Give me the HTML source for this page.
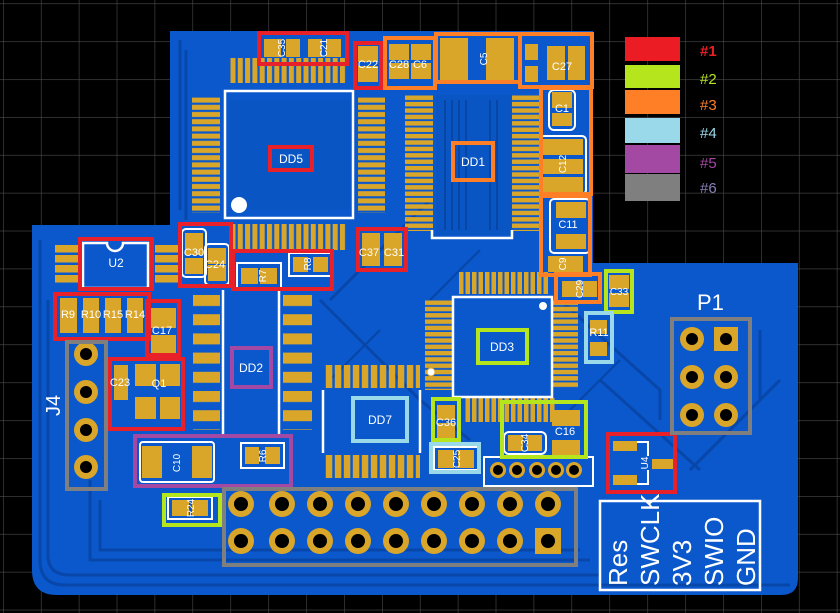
<!DOCTYPE html>
<html><head><meta charset="utf-8"><style>
html,body{margin:0;padding:0;background:#000;}
svg{display:block;}
text{font-family:"Liberation Sans",sans-serif;}
</style></head><body>
<svg width="840" height="613" viewBox="0 0 840 613" xmlns="http://www.w3.org/2000/svg">
<defs>
<pattern id="grid" x="3" y="3.3" width="37.9" height="37.9" patternUnits="userSpaceOnUse"><path d="M0 0H37.9M0 0V37.9" stroke="#4a4a4a" stroke-width="1.2" fill="none"/></pattern>
<pattern id="pv" x="230" y="0" width="7.3" height="613" patternUnits="userSpaceOnUse"><rect x="0.5" y="0" width="5" height="613" rx="2" fill="#d9a62a"/></pattern>
<pattern id="pv2" x="325" y="0" width="9" height="613" patternUnits="userSpaceOnUse"><rect x="0.8" y="0" width="6.5" height="613" rx="1" fill="#d9a62a"/></pattern>
<pattern id="ph" x="0" y="97" width="840" height="7.2" patternUnits="userSpaceOnUse"><rect x="0" y="0.6" width="840" height="5" fill="#d9a62a"/></pattern>
<pattern id="ph2" x="0" y="95" width="840" height="6.4" patternUnits="userSpaceOnUse"><rect x="0" y="0.5" width="840" height="4.5" fill="#d9a62a"/></pattern>
<pattern id="ph3" x="0" y="300" width="840" height="6.3" patternUnits="userSpaceOnUse"><rect x="0" y="0.5" width="840" height="4.5" fill="#d9a62a"/></pattern>
<pattern id="pv3" x="465" y="0" width="6.5" height="613" patternUnits="userSpaceOnUse"><rect x="0.5" y="0" width="4.5" height="613" fill="#d9a62a"/></pattern>
<pattern id="pso" x="0" y="294" width="840" height="19.2" patternUnits="userSpaceOnUse"><rect x="0" y="1" width="840" height="11" fill="#d9a62a"/></pattern>
<pattern id="pu2" x="0" y="244" width="840" height="10" patternUnits="userSpaceOnUse"><rect x="0" y="1" width="840" height="7.5" fill="#d9a62a"/></pattern>
</defs>
<rect width="840" height="613" fill="#000"/>
<rect width="840" height="613" fill="url(#grid)"/>
<!-- board -->
<path d="M170 31 H593 V263 H798 V578 Q798 595 781 595 H57 Q32 595 32 570 V225 H170 Z" fill="#0a58cc"/>
<g stroke="#0846a6" stroke-width="3" fill="none" opacity="0.9">
<path d="M180 40 V210 M186 50 V220 M40 240 V560 Q40 585 65 585 H790 M48 300 V555 Q48 575 70 575 H600"/>
<path d="M560 300 L660 390 V420 M600 380 L700 470 M470 440 L420 400 L320 300 M330 300 L430 200"/>
<path d="M90 480 V560 H590 M100 500 V550 H580"/>
<path d="M720 440 L760 400 V330 M690 470 L780 380"/>
</g>
<rect x="230" y="100" width="120" height="110" fill="#0a55c4"/>
<rect x="436" y="95" width="75" height="140" fill="#0a55c4"/>
<g stroke="#0846a6" stroke-width="2" fill="none">
<path d="M445 100 V230 M452 100 V230 M459 100 V230 M466 100 V230 M490 100 V230 M497 100 V230"/>
<path d="M330 380 L380 330 M560 420 L620 360 M430 300 L480 250"/>
</g>
<!-- DD5 -->
<rect x="230" y="58" width="117" height="25" fill="url(#pv)"/>
<rect x="233" y="224" width="114" height="26" fill="url(#pv)"/>
<rect x="192" y="97" width="28" height="116" fill="url(#ph)"/>
<rect x="358" y="97" width="27" height="116" fill="url(#ph)"/>
<rect x="225" y="91" width="128" height="127" fill="none" stroke="#fff" stroke-width="2.5"/>
<circle cx="239" cy="205" r="8" fill="#fff"/>
<!-- DD1 -->
<rect x="405" y="95" width="28" height="136" fill="url(#ph2)"/>
<rect x="512" y="95" width="28" height="136" fill="url(#ph2)"/>
<rect x="458" y="272" width="90" height="22" fill="url(#pv3)"/>
<path d="M432 230 V238 H512 V230" fill="none" stroke="#fff" stroke-width="2.5"/>
<!-- DD3 -->
<rect x="425" y="300" width="28" height="90" fill="url(#ph3)"/>
<rect x="553" y="300" width="25" height="88" fill="url(#ph3)"/>
<rect x="465" y="398" width="90" height="24" fill="url(#pv3)"/>
<rect x="453" y="297" width="99" height="100" fill="none" stroke="#fff" stroke-width="2.5"/>
<circle cx="543" cy="306" r="4" fill="#fff"/>
<circle cx="431" cy="372" r="4" fill="#fff" stroke="#d9a62a" stroke-width="1"/>
<!-- DD7 -->
<rect x="325" y="365" width="95" height="23" fill="url(#pv2)"/>
<rect x="325" y="455" width="95" height="23" fill="url(#pv2)"/>
<path d="M323 390 V453 M420 390 V453" stroke="#fff" stroke-width="2.5"/>
<!-- DD2 -->
<rect x="193" y="294" width="27" height="136" fill="url(#pso)"/>
<rect x="283" y="294" width="29" height="136" fill="url(#pso)"/>
<path d="M223 290 V435 M279 290 V435" stroke="#fff" stroke-width="2.5"/>
<!-- U2 -->
<rect x="55" y="244" width="24" height="40" fill="url(#pu2)"/>
<rect x="155" y="244" width="24" height="40" fill="url(#pu2)"/>
<path d="M83 243 H107 A8 8 0 0 0 123 243 H148 V288 H83 Z" fill="none" stroke="#fff" stroke-width="2.5"/>
<!-- pads -->
<g fill="#d9a62a">
<rect x="264" y="39" width="17" height="18"/><rect x="286" y="39" width="14" height="18"/>
<rect x="308" y="39" width="14" height="18"/><rect x="326" y="39" width="15" height="18"/>
<rect x="358" y="46" width="20" height="16"/><rect x="358" y="66" width="20" height="16"/>
<rect x="389" y="44" width="20" height="16"/><rect x="389" y="63" width="20" height="16"/>
<rect x="411" y="44" width="20" height="16"/><rect x="411" y="63" width="20" height="16"/>
<rect x="440" y="38" width="28" height="42"/><rect x="486" y="38" width="28" height="42"/>
<rect x="525" y="44" width="13" height="16"/><rect x="525" y="66" width="13" height="16"/>
<rect x="547" y="46" width="18" height="34"/><rect x="568" y="46" width="17" height="34"/>
<rect x="552" y="92" width="20" height="16"/><rect x="552" y="113" width="20" height="13"/>
<rect x="543" y="139" width="40" height="16"/><rect x="543" y="159" width="40" height="15"/><rect x="543" y="177" width="40" height="15"/>
<rect x="556" y="202" width="30" height="16"/><rect x="556" y="234" width="30" height="15"/>
<rect x="548" y="256" width="35" height="16"/>
<rect x="562" y="281" width="20" height="16"/><rect x="583" y="281" width="14" height="16"/>
<rect x="609" y="275" width="20" height="14"/><rect x="609" y="293" width="20" height="14"/>
<rect x="590" y="320" width="17" height="14"/><rect x="590" y="342" width="17" height="14"/>
<rect x="185" y="233" width="18" height="22"/><rect x="185" y="258" width="18" height="16"/>
<rect x="208" y="248" width="18" height="16"/><rect x="208" y="265" width="18" height="16"/>
<rect x="241" y="268" width="17" height="16"/><rect x="260" y="268" width="17" height="16"/>
<rect x="293" y="257" width="15" height="15"/><rect x="313" y="257" width="15" height="15"/>
<rect x="362" y="233" width="18" height="33"/><rect x="384" y="233" width="18" height="33"/>
<rect x="60" y="298" width="17" height="35"/><rect x="83" y="298" width="16" height="35"/><rect x="105" y="298" width="16" height="35"/><rect x="127" y="298" width="16" height="35"/>
<rect x="151" y="308" width="25" height="20"/><rect x="151" y="335" width="25" height="18"/>
<rect x="114" y="365" width="14" height="35"/>
<rect x="135" y="364" width="21" height="22"/><rect x="160" y="364" width="20" height="22"/>
<rect x="135" y="397" width="21" height="22"/><rect x="160" y="397" width="20" height="22"/>
<rect x="142" y="446" width="20" height="32"/><rect x="192" y="446" width="20" height="32"/>
<rect x="245" y="447" width="14" height="17"/><rect x="265" y="447" width="15" height="17"/>
<rect x="172" y="500" width="17" height="16"/><rect x="192" y="500" width="16" height="16"/>
<rect x="437" y="405" width="18" height="15"/><rect x="437" y="423" width="18" height="15"/>
<rect x="438" y="450" width="16" height="18"/><rect x="458" y="450" width="16" height="18"/>
<rect x="508" y="435" width="15" height="16"/><rect x="527" y="435" width="15" height="16"/>
<rect x="552" y="410" width="28" height="16"/><rect x="552" y="440" width="28" height="16"/>
<rect x="613" y="441" width="24" height="10"/><rect x="613" y="475" width="24" height="10"/><rect x="652" y="459" width="23" height="10"/>
</g>
<!-- white silkscreen outlines around small parts -->
<g fill="none" stroke="#fff" stroke-width="2">
<rect x="182" y="229" width="24" height="48" rx="4"/>
<rect x="205" y="244" width="24" height="41" rx="4"/>
<rect x="237" y="263" width="44" height="25"/>
<rect x="289" y="253" width="43" height="23"/>
<rect x="140" y="442" width="74" height="40" rx="3"/>
<rect x="241" y="443" width="43" height="25"/>
<rect x="168" y="497" width="44" height="22"/>
<rect x="549" y="90" width="26" height="40" rx="5"/>
<rect x="540" y="136" width="46" height="58" rx="4"/>
<rect x="550" y="199" width="40" height="54" rx="4"/>
<rect x="434" y="447" width="44" height="23"/>
<rect x="504" y="432" width="42" height="22" rx="5"/>
</g>
<!-- legend -->
<rect x="625" y="37" width="55" height="24" fill="#ec1c24"/>
<rect x="625" y="65" width="55" height="23" fill="#b5e51d"/>
<rect x="625" y="90" width="55" height="24" fill="#ff7f27"/>
<rect x="625" y="118" width="55" height="25" fill="#99d9ea"/>
<rect x="625" y="145" width="55" height="28" fill="#a349a4"/>
<rect x="625" y="174" width="55" height="27" fill="#7f7f7f"/>
<g font-size="15">
<text x="700" y="56" fill="#ec1c24" font-weight="bold">#1</text>
<text x="700" y="84" fill="#b5e51d">#2</text>
<text x="700" y="110" fill="#ff7f27">#3</text>
<text x="700" y="138" fill="#99d9ea">#4</text>
<text x="700" y="168" fill="#a349a4">#5</text>
<text x="700" y="193" fill="#8a7fb8">#6</text>
</g>
<!-- connectors -->
<text x="697" y="310" fill="#fff" font-size="22">P1</text>
<g fill="#d9a62a">
<circle cx="692" cy="339" r="12"/><rect x="714" y="327" width="24" height="24"/>
<circle cx="692" cy="377" r="12"/><circle cx="726" cy="377" r="12"/>
<circle cx="692" cy="415" r="12"/><circle cx="726" cy="415" r="12"/>
<circle cx="86" cy="354" r="12"/><circle cx="86" cy="392" r="12"/><circle cx="86" cy="430" r="12"/><circle cx="86" cy="467" r="12"/>
<circle cx="241" cy="504" r="13"/><circle cx="282" cy="504" r="13"/><circle cx="320" cy="504" r="13"/><circle cx="358" cy="504" r="13"/><circle cx="396" cy="504" r="13"/><circle cx="434" cy="504" r="13"/><circle cx="472" cy="504" r="13"/><circle cx="510" cy="504" r="13"/><circle cx="548" cy="504" r="13"/>
<circle cx="241" cy="541" r="13"/><circle cx="282" cy="541" r="13"/><circle cx="320" cy="541" r="13"/><circle cx="358" cy="541" r="13"/><circle cx="396" cy="541" r="13"/><circle cx="434" cy="541" r="13"/><circle cx="472" cy="541" r="13"/><circle cx="510" cy="541" r="13"/><rect x="535" y="528" width="26" height="26"/>
<circle cx="498" cy="470" r="8"/><circle cx="517" cy="470" r="8"/><circle cx="537" cy="470" r="8"/><circle cx="556" cy="470" r="8"/><circle cx="574" cy="470" r="8"/>
</g>
<g fill="#000">
<circle cx="692" cy="339" r="6"/><circle cx="726" cy="339" r="6"/>
<circle cx="692" cy="377" r="6"/><circle cx="726" cy="377" r="6"/>
<circle cx="692" cy="415" r="6"/><circle cx="726" cy="415" r="6"/>
<circle cx="86" cy="354" r="6"/><circle cx="86" cy="392" r="6"/><circle cx="86" cy="430" r="6"/><circle cx="86" cy="467" r="6"/>
<circle cx="241" cy="504" r="7"/><circle cx="282" cy="504" r="7"/><circle cx="320" cy="504" r="7"/><circle cx="358" cy="504" r="7"/><circle cx="396" cy="504" r="7"/><circle cx="434" cy="504" r="7"/><circle cx="472" cy="504" r="7"/><circle cx="510" cy="504" r="7"/><circle cx="548" cy="504" r="7"/>
<circle cx="241" cy="541" r="7"/><circle cx="282" cy="541" r="7"/><circle cx="320" cy="541" r="7"/><circle cx="358" cy="541" r="7"/><circle cx="396" cy="541" r="7"/><circle cx="434" cy="541" r="7"/><circle cx="472" cy="541" r="7"/><circle cx="510" cy="541" r="7"/><circle cx="548" cy="541" r="7"/>
<circle cx="498" cy="470" r="5"/><circle cx="517" cy="470" r="5"/><circle cx="537" cy="470" r="5"/><circle cx="556" cy="470" r="5"/><circle cx="574" cy="470" r="5"/>
</g>
<text transform="translate(60,416) rotate(-90)" fill="#fff" font-size="20">J4</text>
<rect x="484" y="457" width="109" height="29" fill="none" stroke="#fff" stroke-width="2"/>
<rect x="600" y="501" width="160" height="89" fill="none" stroke="#fff" stroke-width="2.5"/>
<g fill="#fff" font-size="26">
<text transform="translate(627,586) rotate(-90)">Res</text>
<text transform="translate(659,586) rotate(-90)">SWCLK</text>
<text transform="translate(691,586) rotate(-90)">3V3</text>
<text transform="translate(723,586) rotate(-90)">SWIO</text>
<text transform="translate(755,586) rotate(-90)">GND</text>
</g>
<path d="M637 442 H648 V456 M637 484 H648 V470" fill="none" stroke="#fff" stroke-width="2"/>
<!-- highlight boxes -->
<g fill="none" stroke-width="4">
<g stroke="#e8202a">
<rect x="259" y="33" width="88" height="31"/>
<rect x="355" y="43" width="26" height="45"/>
<rect x="270" y="147" width="42" height="23"/>
<rect x="80" y="239" width="72" height="50"/>
<rect x="180" y="224" width="51" height="62"/>
<rect x="233" y="251" width="99" height="38"/>
<rect x="358" y="229" width="48" height="41"/>
<rect x="55" y="294" width="94" height="45"/>
<rect x="147" y="301" width="32" height="54"/>
<rect x="110" y="359" width="73" height="70"/>
<rect x="608" y="434" width="67" height="58"/>
</g>
<g stroke="#ff7f27">
<rect x="385" y="38" width="50" height="50"/>
<rect x="436" y="34" width="84" height="48"/>
<rect x="520" y="34" width="72" height="53"/>
<rect x="541" y="88" width="50" height="106"/>
<rect x="541" y="196" width="49" height="79"/>
<rect x="556" y="274" width="44" height="28"/>
<rect x="453" y="143" width="40" height="37"/>
</g>
<g stroke="#b5e51d">
<rect x="606" y="271" width="26" height="41"/>
<rect x="478" y="330" width="49" height="33"/>
<rect x="433" y="399" width="26" height="41"/>
<rect x="502" y="402" width="84" height="55"/>
<rect x="164" y="495" width="56" height="30"/>
</g>
<g stroke="#99d9ea">
<rect x="586" y="313" width="26" height="49"/>
<rect x="353" y="398" width="54" height="43"/>
<rect x="431" y="444" width="48" height="28"/>
</g>
<g stroke="#a349a4">
<rect x="232" y="348" width="39" height="39"/>
<rect x="135" y="436" width="156" height="50"/>
</g>
<g stroke="#7f7f7f">
<rect x="67" y="342" width="39" height="147"/>
<rect x="672" y="319" width="78" height="114"/>
<rect x="224" y="489" width="352" height="76"/>
</g>
</g>
<!-- labels -->
<g fill="#fff" font-size="11" text-anchor="middle">
<text x="291" y="163" font-size="12">DD5</text>
<text x="473" y="166" font-size="12">DD1</text>
<text x="502" y="351" font-size="12">DD3</text>
<text x="380" y="424" font-size="12">DD7</text>
<text x="251" y="372" font-size="12">DD2</text>
<text x="116" y="267" font-size="12">U2</text>
<text x="368" y="68">C22</text>
<text x="399" y="68">C28</text>
<text x="420" y="68">C6</text>
<text x="562" y="70">C27</text>
<text x="562" y="112">C1</text>
<text x="568" y="228">C11</text>
<text x="194" y="256">C30</text>
<text x="215" y="268">C24</text>
<text x="369" y="256">C37</text>
<text x="394" y="256">C31</text>
<text x="68" y="318">R9</text>
<text x="91" y="318">R10</text>
<text x="113" y="318">R15</text>
<text x="135" y="318">R14</text>
<text x="162" y="334">C17</text>
<text x="159" y="387">Q1</text>
<text x="120" y="386">C23</text>
<text x="446" y="426">C36</text>
<text x="565" y="435">C16</text>
<text x="599" y="336">R11</text>
</g>
<g fill="#fff" font-size="10" text-anchor="middle">
<text transform="translate(285,48) rotate(-90)">C35</text>
<text transform="translate(327,48) rotate(-90)">C21</text>
<text transform="translate(487,59) rotate(-90)">C5</text>
<text transform="translate(266,276) rotate(-90)">R7</text>
<text transform="translate(311,264) rotate(-90)">R8</text>
<text transform="translate(180,463) rotate(-90)">C10</text>
<text transform="translate(266,456) rotate(-90)">R6</text>
<text transform="translate(194,508) rotate(-90)">R24</text>
<text transform="translate(528,443) rotate(-90)">C34</text>
<text transform="translate(460,459) rotate(-90)">C25</text>
<text transform="translate(566,264) rotate(-90)">C9</text>
<text transform="translate(583,289) rotate(-90)">C29</text>
<text transform="translate(566,164) rotate(-90)">C12</text>
<text transform="translate(648,463) rotate(-90)">U4</text>
<text x="619" y="295">C33</text>
</g>
</svg>
</body></html>
